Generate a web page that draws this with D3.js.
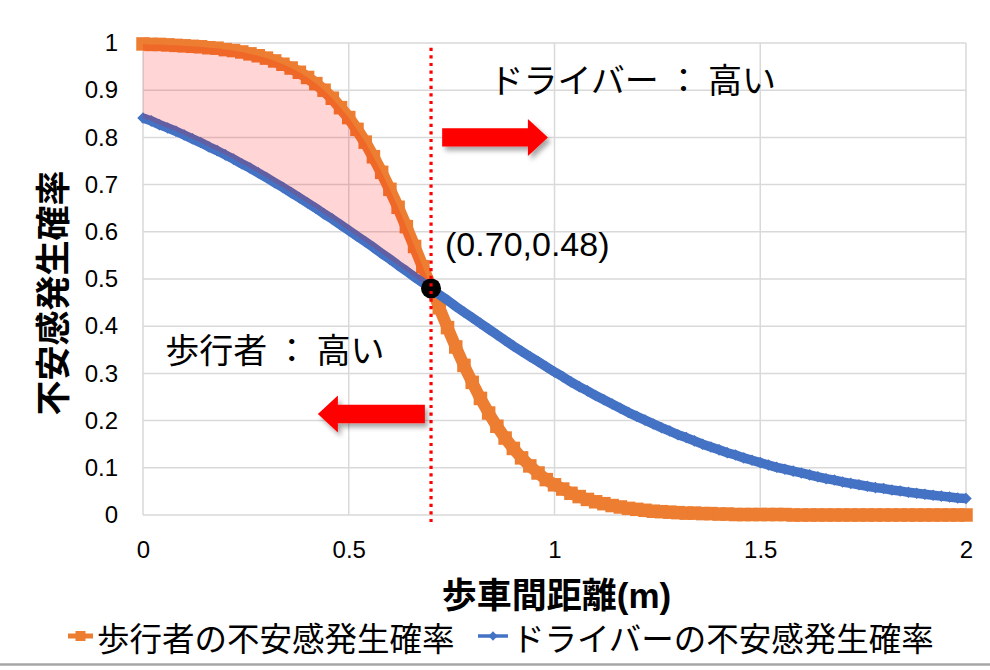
<!DOCTYPE html>
<html>
<head>
<meta charset="utf-8">
<script src="https://cdn.jsdelivr.net/npm/d3@7"></script>
<style>
  body { margin: 0; background: #ffffff; }
  svg { display: block; }
</style>
</head>
<body>
<svg id="chart" width="990" height="670"></svg>
<script>
// Distance between pedestrian and vehicle (m)
const distances = [
  0.00, 0.02, 0.04, 0.06, 0.08, 0.10, 0.12, 0.14, 0.16, 0.18,
  0.20, 0.22, 0.24, 0.26, 0.28, 0.30, 0.32, 0.34, 0.36, 0.38,
  0.40, 0.42, 0.44, 0.46, 0.48, 0.50, 0.52, 0.54, 0.56, 0.58,
  0.60, 0.62, 0.64, 0.66, 0.68, 0.70, 0.72, 0.74, 0.76, 0.78,
  0.80, 0.82, 0.84, 0.86, 0.88, 0.90, 0.92, 0.94, 0.96, 0.98,
  1.00, 1.02, 1.04, 1.06, 1.08, 1.10, 1.12, 1.14, 1.16, 1.18,
  1.20, 1.22, 1.24, 1.26, 1.28, 1.30, 1.32, 1.34, 1.36, 1.38,
  1.40, 1.42, 1.44, 1.46, 1.48, 1.50, 1.52, 1.54, 1.56, 1.58,
  1.60, 1.62, 1.64, 1.66, 1.68, 1.70, 1.72, 1.74, 1.76, 1.78,
  1.80, 1.82, 1.84, 1.86, 1.88, 1.90, 1.92, 1.94, 1.96, 1.98,
  2.00
];

// Pedestrian anxiety probability
const pedestrianProb = [
  0.998, 0.997, 0.997, 0.996, 0.995, 0.994, 0.993, 0.992, 0.990, 0.989,
  0.986, 0.984, 0.981, 0.977, 0.973, 0.968, 0.962, 0.955, 0.947, 0.938,
  0.927, 0.914, 0.900, 0.883, 0.863, 0.842, 0.817, 0.790, 0.759, 0.726,
  0.690, 0.652, 0.611, 0.569, 0.526, 0.483, 0.439, 0.397, 0.356, 0.317,
  0.281, 0.247, 0.216, 0.188, 0.163, 0.141, 0.121, 0.104, 0.089, 0.075,
  0.064, 0.055, 0.046, 0.039, 0.033, 0.028, 0.024, 0.020, 0.017, 0.014,
  0.012, 0.010, 0.008, 0.007, 0.006, 0.005, 0.004, 0.004, 0.003, 0.003,
  0.002, 0.002, 0.001, 0.001, 0.001, 0.001, 0.001, 0.001, 0.001, 0.000,
  0.000, 0.000, 0.000, 0.000, 0.000, 0.000, 0.000, 0.000, 0.000, 0.000,
  0.000, 0.000, 0.000, 0.000, 0.000, 0.000, 0.000, 0.000, 0.000, 0.000,
  0.000
];

// Driver anxiety probability
const driverProb = [
  0.841, 0.835, 0.827, 0.820, 0.813, 0.805, 0.797, 0.789, 0.780, 0.772,
  0.763, 0.754, 0.744, 0.735, 0.725, 0.715, 0.704, 0.694, 0.683, 0.672,
  0.661, 0.650, 0.638, 0.627, 0.615, 0.603, 0.591, 0.579, 0.567, 0.554,
  0.542, 0.529, 0.517, 0.504, 0.492, 0.479, 0.467, 0.455, 0.442, 0.430,
  0.418, 0.406, 0.394, 0.382, 0.370, 0.358, 0.347, 0.336, 0.325, 0.314,
  0.303, 0.293, 0.282, 0.272, 0.263, 0.253, 0.244, 0.235, 0.226, 0.217,
  0.209, 0.201, 0.193, 0.185, 0.178, 0.170, 0.164, 0.157, 0.150, 0.144,
  0.138, 0.132, 0.127, 0.121, 0.116, 0.111, 0.106, 0.101, 0.097, 0.093,
  0.089, 0.085, 0.081, 0.077, 0.074, 0.070, 0.067, 0.064, 0.061, 0.058,
  0.056, 0.053, 0.051, 0.048, 0.046, 0.044, 0.042, 0.040, 0.038, 0.036,
  0.035
];

const seriesNames = ["歩行者の不安感発生確率", "ドライバーの不安感発生確率"];

const xTicks = [0, 0.5, 1, 1.5, 2];
const xTickLabels = ["0", "0.5", "1", "1.5", "2"];
const yTicks = [0, 0.1, 0.2, 0.3, 0.4, 0.5, 0.6, 0.7, 0.8, 0.9, 1];
const yTickLabels = ["0", "0.1", "0.2", "0.3", "0.4", "0.5", "0.6", "0.7", "0.8", "0.9", "1"];

const xTitle = "歩車間距離(m)";
const yTitle = "不安感発生確率";

// Crossing point of the two curves
const crossPoint = { x: 0.70, y: 0.48 };
const crossLabel = "(0.70,0.48)";

// Region notes and their arrows (data coordinates)
const regionNotes = [
  { text: "ドライバー ： 高い", x: 0.842, y: 0.895 },
  { text: "歩行者 ： 高い",     x: 0.054, y: 0.322 }
];
const regionArrows = [
  { from: 0.727, to: 0.984, y: 0.80 },
  { from: 0.685, to: 0.425, y: 0.214 }
];

// ---------------------------------------------------------------
const W = 990, H = 670;
const margin = { left: 143, right: 24, top: 43, bottom: 155 };
const svg = d3.select("#chart");

const x = d3.scaleLinear().domain([0, 2]).range([margin.left, W - margin.right]);
const y = d3.scaleLinear().domain([0, 1]).range([H - margin.bottom, margin.top]);

const latinFont = "'Liberation Sans', Arial, 'Noto Sans CJK JP', sans-serif";
const cjkFont = "'Noto Sans CJK JP', 'Liberation Sans', sans-serif";
const orange = "#ED7D31";
const blue = "#4472C4";
const gridColor = "#D9D9D9";

// Drop shadow for the arrows
const defs = svg.append("defs");
const shadow = defs.append("filter").attr("id", "arrowShadow")
  .attr("x", "-20%").attr("y", "-50%").attr("width", "150%").attr("height", "200%");
shadow.append("feDropShadow")
  .attr("dx", 3).attr("dy", 4).attr("stdDeviation", 2.5)
  .attr("flood-color", "#000").attr("flood-opacity", 0.35);

// Gridlines
const grid = svg.append("g");
grid.selectAll("line.h").data(yTicks).join("line")
  .attr("x1", x(0)).attr("x2", x(2))
  .attr("y1", d => y(d)).attr("y2", d => y(d))
  .attr("stroke", gridColor).attr("stroke-width", 1.5);
grid.selectAll("line.v").data(xTicks).join("line")
  .attr("x1", d => x(d)).attr("x2", d => x(d))
  .attr("y1", y(0)).attr("y2", y(1))
  .attr("stroke", gridColor).attr("stroke-width", 1.5);

// Axes (labels only)
const yAxis = svg.append("g")
  .attr("transform", `translate(${x(0)},0)`)
  .call(d3.axisLeft(y).tickValues(yTicks).tickFormat((d, i) => yTickLabels[i]).tickSize(0).tickPadding(25));
const xAxis = svg.append("g")
  .attr("transform", `translate(0,${y(0)})`)
  .call(d3.axisBottom(x).tickValues(xTicks).tickFormat((d, i) => xTickLabels[i]).tickSize(0).tickPadding(26));
[yAxis, xAxis].forEach(g => {
  g.select(".domain").remove();
  g.selectAll("text")
    .attr("font-family", latinFont)
    .attr("font-size", 24)
    .attr("fill", "#000");
});

// Series data
const pedPts = distances.map((d, i) => ({ x: d, y: pedestrianProb[i] }));
const drvPts = distances.map((d, i) => ({ x: d, y: driverProb[i] }));

const line = d3.line().x(d => x(d.x)).y(d => y(d.y));

// Pedestrian series: thick line with square markers
const pedG = svg.append("g");
pedG.append("path").datum(pedPts)
  .attr("d", line).attr("fill", "none")
  .attr("stroke", orange).attr("stroke-width", 12).attr("stroke-linejoin", "round");
const sq = 13.5;
pedG.selectAll("rect").data(pedPts).join("rect")
  .attr("x", d => x(d.x) - sq / 2).attr("y", d => y(d.y) - sq / 2)
  .attr("width", sq).attr("height", sq).attr("fill", orange);

// Driver series: line with diamond markers
const drvG = svg.append("g");
drvG.append("path").datum(drvPts)
  .attr("d", line).attr("fill", "none")
  .attr("stroke", blue).attr("stroke-width", 9.5).attr("stroke-linejoin", "round");
const diamond = d3.symbol().type(d3.symbolDiamond2).size(85);
drvG.selectAll("path.m").data(drvPts).join("path")
  .attr("class", "m")
  .attr("transform", d => `translate(${x(d.x)},${y(d.y)})`)
  .attr("d", diamond).attr("fill", blue);

// Band where the pedestrian curve is above the driver curve
const bandPts = distances
  .map((d, i) => ({ x: d, lo: driverProb[i], hi: pedestrianProb[i] }))
  .filter(d => d.x <= crossPoint.x + 1e-9);
svg.append("path").datum(bandPts)
  .attr("d", d3.area().x(d => x(d.x)).y0(d => y(d.lo)).y1(d => y(d.hi)))
  .attr("fill", "#FF0000").attr("fill-opacity", 0.165);

// Crossing marker
svg.append("circle")
  .attr("cx", x(crossPoint.x)).attr("cy", y(crossPoint.y))
  .attr("r", 10).attr("fill", "#000");

// Vertical dotted line at the crossing distance
svg.append("line")
  .attr("x1", x(crossPoint.x)).attr("x2", x(crossPoint.x))
  .attr("y1", y(0.99)).attr("y2", y(-0.015))
  .attr("stroke", "#FF0000").attr("stroke-width", 3.2)
  .attr("stroke-dasharray", "3.2,4.4");

svg.append("text")
  .attr("x", x(crossPoint.x) + 14).attr("y", y(crossPoint.y) - 32)
  .attr("font-family", latinFont).attr("font-size", 34)
  .attr("fill", "#000").text(crossLabel);

// Arrows
const bodyHalf = 9.2, headHalf = 18.5, headLen = 20;
regionArrows.forEach(a => {
  const x0 = x(a.from), x1 = x(a.to), cy = y(a.y);
  const dir = Math.sign(x1 - x0);
  const hb = x1 - dir * headLen;
  const pts = [
    [x0, cy - bodyHalf], [hb, cy - bodyHalf], [hb, cy - headHalf], [x1, cy],
    [hb, cy + headHalf], [hb, cy + bodyHalf], [x0, cy + bodyHalf]
  ];
  svg.append("path")
    .attr("d", "M" + pts.map(p => p.join(",")).join("L") + "Z")
    .attr("fill", "#FF0000")
    .attr("filter", "url(#arrowShadow)");
});

// Region notes
svg.selectAll("text.note").data(regionNotes).join("text")
  .attr("class", "note")
  .attr("x", d => x(d.x)).attr("y", d => y(d.y))
  .attr("font-family", cjkFont).attr("font-size", 34)
  .attr("fill", "#000")
  .text(d => d.text);

// Axis titles
svg.append("text")
  .attr("transform", `translate(50,${(y(0) + y(1)) / 2 + 14}) rotate(-90)`)
  .attr("text-anchor", "middle").attr("dominant-baseline", "central")
  .attr("font-family", cjkFont).attr("font-size", 35).attr("font-weight", "bold")
  .attr("fill", "#000").text(yTitle);

svg.append("text")
  .attr("x", (x(0) + x(2)) / 2 + 2).attr("y", 595)
  .attr("text-anchor", "middle").attr("dominant-baseline", "central")
  .attr("font-family", latinFont).attr("font-size", 35).attr("font-weight", "bold")
  .attr("fill", "#000").text(xTitle);

// Legend
const legendY = 636;
const legend = svg.append("g");
const l1 = legend.append("g");
l1.append("line").attr("x1", 68).attr("x2", 93).attr("y1", legendY).attr("y2", legendY)
  .attr("stroke", orange).attr("stroke-width", 5);
l1.append("rect").attr("x", 80.5 - 5).attr("y", legendY - 5).attr("width", 10).attr("height", 10)
  .attr("fill", orange);
l1.append("text").attr("x", 97).attr("y", legendY)
  .attr("dominant-baseline", "central")
  .attr("font-family", cjkFont).attr("font-size", 32.5).attr("fill", "#000")
  .text(seriesNames[0]);

const l2 = legend.append("g");
l2.append("line").attr("x1", 478).attr("x2", 508).attr("y1", legendY).attr("y2", legendY)
  .attr("stroke", blue).attr("stroke-width", 3.5);
l2.append("path").attr("transform", `translate(493,${legendY})`)
  .attr("d", d3.symbol().type(d3.symbolDiamond2).size(55)).attr("fill", blue);
l2.append("text").attr("x", 512).attr("y", legendY)
  .attr("dominant-baseline", "central")
  .attr("font-family", cjkFont).attr("font-size", 32.5).attr("fill", "#000")
  .text(seriesNames[1]);

// Bottom rule
svg.append("line")
  .attr("x1", 0).attr("x2", W).attr("y1", 664.5).attr("y2", 664.5)
  .attr("stroke", "#A6A6A6").attr("stroke-width", 2.5);
</script>
</body>
</html>
